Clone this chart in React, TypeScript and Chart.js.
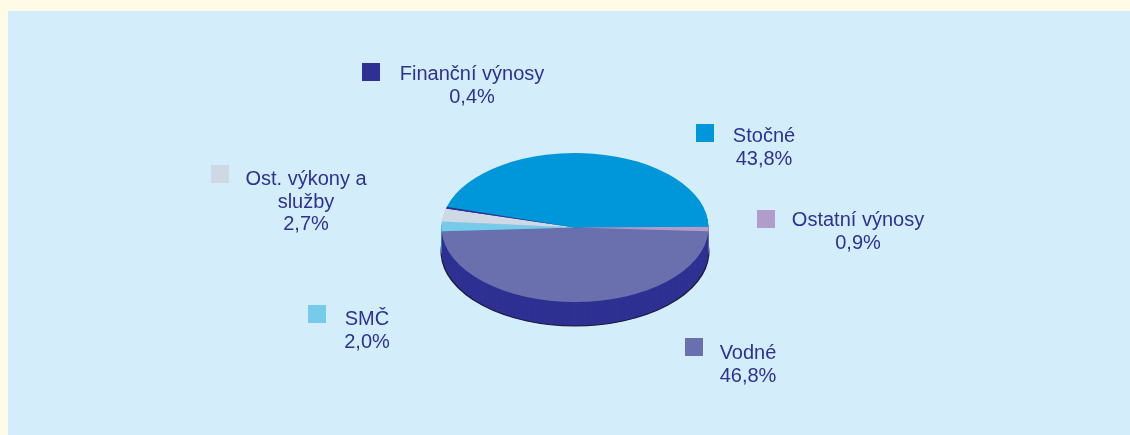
import React, { useEffect, useRef } from "react";
import { Chart, registerables } from "chart.js";

Chart.register(...registerables);

// ---- data ----
const labels = ["Vodné", "SMČ", "Ost. výkony a služby", "Finanční výnosy", "Stočné", "Ostatní výnosy"];
const values = [46.8, 2.0, 2.7, 0.4, 43.8, 0.9];
const labelLines = [["Vodné"], ["SMČ"], ["Ost. výkony a", "služby"], ["Finanční výnosy"], ["Stočné"], ["Ostatní výnosy"]];

// ---- styles ----
const colors = ["#6a6fae", "#77cbea", "#cfd8e5", "#2e3192", "#0096da", "#b19dcc"];
const sideColors = ["#2e3192", "#3fa3c8", "#a0a9bd", "#1f2270", "#006fa8", "#8a76a8"];
const TEXT_COLOR = "#2e3192";
const EDGE = "#1c1c3c";
const TILT = 74.5 / 133.5;
const DEPTH = 24;
const PANEL_X = 8;
const PANEL_Y = 11;
const PANEL_W = 1122;
const PANEL_H = 424;
const FONT = '20px "Liberation Sans", Arial, sans-serif';
const LINE_H = 22.5;

// label layout (screen coords): square x, square y, text centre x, first baseline y
const squareX = [685, 308, 211, 362, 696, 757];
const squareY = [338, 305, 165, 63, 124, 210];
const textCX = [748, 367, 306, 472, 764, 858];
const textBaseY = [359, 325, 185, 80, 142, 226];
const SQUARE = 18;

const pie3d = {
  id: "pie3d",
  beforeDatasetsDraw(chart: any) {
    const ctx = chart.ctx;
    const arcs = chart.getDatasetMeta(0).data;
    if (!arcs.length) return;
    const cx = arcs[0].x;
    const cy = arcs[0].y;
    for (let d = DEPTH; d >= 1; d--) {
      ctx.save();
      ctx.translate(cx, cy + d);
      ctx.scale(1, TILT);
      ctx.translate(-cx, -cy);
      arcs.forEach((arc: any, i: number) => {
        const orig = arc.options;
        arc.options = {
          ...orig,
          backgroundColor: sideColors[i],
          borderColor: EDGE,
          borderWidth: d === DEPTH ? 2 : 0,
        };
        arc.draw(ctx);
        arc.options = orig;
      });
      ctx.restore();
    }
    ctx.save();
    ctx.translate(cx, cy);
    ctx.scale(1, TILT);
    ctx.translate(-cx, -cy);
  },
  afterDatasetsDraw(chart: any) {
    chart.ctx.restore();
  },
};

const labelPlugin = {
  id: "pieLabels",
  afterDraw(chart: any) {
    const ctx = chart.ctx;
    ctx.save();
    ctx.font = FONT;
    ctx.textAlign = "center";
    ctx.textBaseline = "alphabetic";
    labels.forEach((_, i) => {
      ctx.fillStyle = colors[i];
      ctx.fillRect(squareX[i] - PANEL_X, squareY[i] - PANEL_Y, SQUARE, SQUARE);
      ctx.fillStyle = TEXT_COLOR;
      const lines = [...labelLines[i], values[i].toFixed(1).replace(".", ",") + "%"];
      lines.forEach((ln, j) => {
        ctx.fillText(ln, textCX[i] - PANEL_X, textBaseY[i] - PANEL_Y + j * LINE_H);
      });
    });
    ctx.restore();
  },
};

export default function App() {
  const ref = useRef<HTMLCanvasElement | null>(null);

  useEffect(() => {
    if (!ref.current) return;
    const chart = new Chart(ref.current, {
      type: "pie",
      data: {
        labels,
        datasets: [
          {
            data: values,
            backgroundColor: colors,
            borderWidth: 0,
          },
        ],
      },
      options: {
        responsive: false,
        animation: false,
        devicePixelRatio: 1,
        rotation: 92.8,
        events: [],
        layout: { padding: { left: 433.5, right: 421.5, top: 83, bottom: 74 } },
        plugins: {
          legend: { display: false },
          tooltip: { enabled: false },
        },
      },
      plugins: [pie3d, labelPlugin],
    } as any);
    return () => chart.destroy();
  }, []);

  return (
    <div style={{ position: "absolute", left: 0, top: 0, width: 1130, height: 435, background: "#fffbe7", overflow: "hidden" }}>
      <div style={{ position: "absolute", left: PANEL_X, top: PANEL_Y, width: PANEL_W, height: PANEL_H, background: "#d3eefa" }}>
        <canvas ref={ref} width={PANEL_W} height={PANEL_H} style={{ display: "block" }} />
      </div>
    </div>
  );
}
